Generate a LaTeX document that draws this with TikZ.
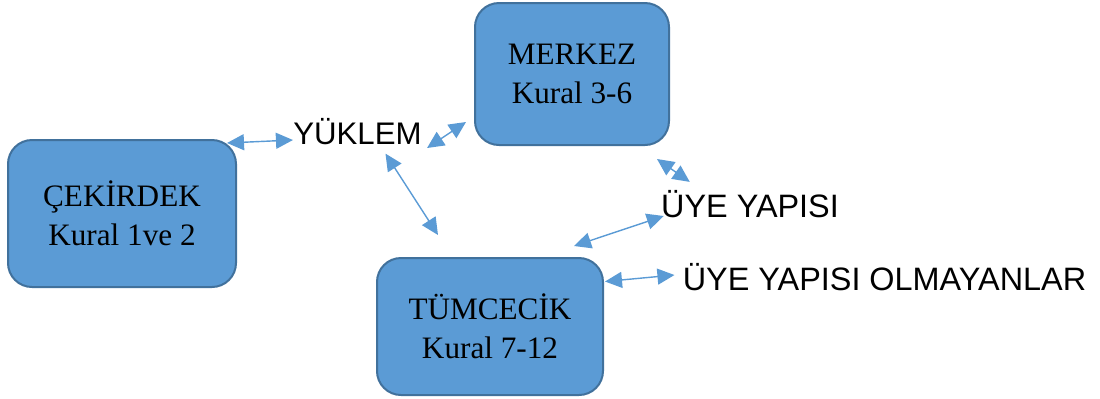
\documentclass[tikz,border=0pt]{standalone}
\usepackage{fontspec}
\setmainfont{Liberation Serif}
\newfontfamily\labelfont{Liberation Sans}
\usepackage{tikz}
\usetikzlibrary{
  calc,
  arrows.meta
}
\definecolor{kutumavi}{HTML}{5B9BD5}
\definecolor{kenarmavi}{HTML}{41719C}
\tikzset{
  kutu/.style={draw=kenarmavi, line width=1pt, fill=kutumavi, rounded corners=12pt,
    align=center, inner sep=0pt, font=\fontsize{15.6}{19.5}\selectfont},
  etiket/.style={inner sep=0pt, font=\labelfont\fontsize{16.2}{18}\selectfont},
  bag/.style={<->, draw=kutumavi, line width=0.7pt}
}

\begin{document}
\begin{tikzpicture}[line cap=round,line join=round,>={Triangle[length=8.5pt,width=8pt]},x=0.5pt,y=-0.5pt]
\useasboundingbox (0,0) rectangle (1100,398);
% kutular
\node [kutu, minimum width=114pt, minimum height=73.5pt] (cek) at (122,213.5) {ÇEKİRDEK\\Kural 1ve 2};
\node [kutu, minimum width=97pt, minimum height=71pt] (mer) at (572,74) {MERKEZ\\Kural 3-6};
\node [kutu, minimum width=113pt, minimum height=68.5pt] (tum) at (490,326.5) {TÜMCECİK\\Kural 7-12};
% etiketler
\node [etiket, font=\labelfont\fontsize{15.6}{18}\selectfont] (yuk) at (357.5,132) {YÜKLEM};
\node [etiket] (uye) at (750,204) {ÜYE YAPISI};
\node [etiket] (olm) at (884.5,277) {ÜYE YAPISI OLMAYANLAR};
% baglar
\draw [bag] ($(cek.north east)+(-10,4)$)-- ($(yuk.west)+(0,8)$);
\draw [bag] ($(yuk.east)+(5,16)$)-- ($(mer.west)+(-8,48)$);
\draw [bag] ($(yuk.south)+(28,8)$)-- ($(tum.north)+(-52,-22)$);
\draw [bag] ($(mer.south east)+(-13,13)$)-- ($(uye.north west)+(29,-8)$);
\draw [bag] ($(tum.north east)+(-30,-11)$)-- ($(uye.west)+(3,12)$);
\draw [bag] ($(tum.east)+(1,-45)$)-- ($(olm.west)+(-8,-2)$);
\end{tikzpicture}
\end{document}
